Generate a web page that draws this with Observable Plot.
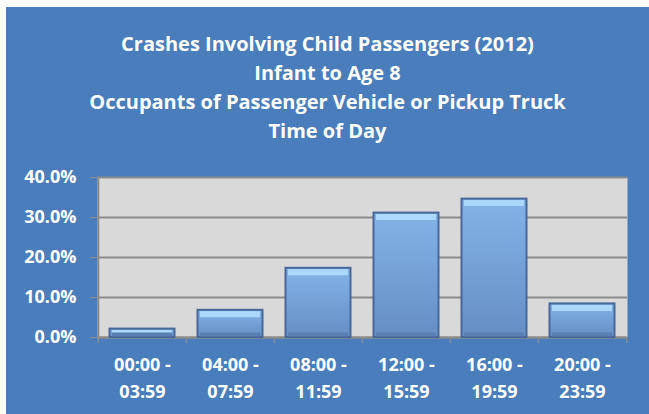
<!DOCTYPE html>
<html>
<head>
<meta charset="utf-8">
<script src="https://cdn.jsdelivr.net/npm/d3@7"></script>
<script src="https://cdn.jsdelivr.net/npm/@observablehq/plot@0.6"></script>
<style>
  html, body { margin: 0; padding: 0; background: #ffffff; }
  #chart { position: relative; width: 649px; height: 414px; overflow: hidden; }
  #panel { position: absolute; left: 6px; top: 7px; width: 643px; height: 407px; background: #4a7dbb; }
  #title { position: absolute; left: 6px; top: 29px; width: 643px; text-align: center;
           font-family: "Open Sans", sans-serif; font-weight: 700; font-size: 20px;
           line-height: 29px; color: #ffffff; }
  #plot { position: absolute; left: 0; top: 157px; }
</style>
</head>
<body>
<div id="chart">
  <div id="panel"></div>
  <div id="title"></div>
  <div id="plot"></div>
</div>
<script>
const titleLines = [
  "Crashes Involving Child Passengers (2012)",
  "Infant to Age 8",
  "Occupants of Passenger Vehicle or Pickup Truck",
  "Time of Day"
];
const categories = ["00:00 -\n03:59", "04:00 -\n07:59", "08:00 -\n11:59", "12:00 -\n15:59", "16:00 -\n19:59", "20:00 -\n23:59"];
const shares = [0.021, 0.068, 0.173, 0.311, 0.346, 0.084];
const yTicks = [0, 0.1, 0.2, 0.3, 0.4];

document.getElementById("title").innerHTML = titleLines.map(t => `<div>${t}</div>`).join("");

const data = categories.map((c, i) => ({slot: c, share: shares[i]}));

const W = 649, H = 257, ML = 97, MR = 22, MT = 20, MB = 77;
const bw = (W - ML - MR) / categories.length;
const grid = "#8c8c8c";

const defs = () => {
  const d = d3.create("svg:defs");
  const g = d.append("linearGradient").attr("id", "barGrad").attr("x1", 0).attr("x2", 0).attr("y1", 0).attr("y2", 1);
  g.append("stop").attr("offset", "0%").attr("stop-color", "#84b3e8");
  g.append("stop").attr("offset", "100%").attr("stop-color", "#658ec4");
  return d.node();
};

const chart = Plot.plot({
  width: W, height: H,
  marginLeft: ML, marginRight: MR, marginTop: MT, marginBottom: MB,
  x: {domain: categories, padding: 0, label: null},
  y: {domain: [0, 0.4], ticks: yTicks, tickFormat: d3.format(".1%"), label: null},
  style: {background: "transparent", fontFamily: "'Open Sans', sans-serif", fontWeight: "700", fontSize: "18px", color: "#ffffff", overflow: "visible"},
  marks: [
    defs,
    Plot.frame({fill: "#d9d9d9"}),
    Plot.gridY(yTicks, {stroke: grid, strokeOpacity: 1, strokeWidth: 2}),
    Plot.ruleY([0], {stroke: grid, strokeWidth: 2}),
    Plot.ruleX([categories[0]], {dx: -bw / 2, y1: 0, y2: 0.4, stroke: grid, strokeWidth: 2}),
    Plot.ruleX(categories, {dx: -bw / 2, y1: 0, y2: 0, insetBottom: -6, stroke: grid, strokeWidth: 1.5}),
    Plot.ruleX([categories[categories.length - 1]], {dx: bw / 2, y1: 0, y2: 0, insetBottom: -6, stroke: grid, strokeWidth: 1.5}),
    Plot.barY(data, {x: "slot", y: "share", fill: "url(#barGrad)", stroke: "#48679a", strokeWidth: 2, insetLeft: 11.5, insetRight: 11.5}),
    Plot.tickY(data, {x: "slot", y: "share", stroke: "#abd8fc", strokeWidth: 6, dy: 4, insetLeft: 14, insetRight: 14}),
    Plot.tickY(data, {x: "slot", y: 0, stroke: "#5a80b3", strokeWidth: 4, dy: -3, insetLeft: 14, insetRight: 14}),
    Plot.axisY(yTicks, {tickSize: 7, tickPadding: 14, stroke: grid, fill: "#ffffff", tickFormat: d3.format(".1%"), label: null}),
    Plot.axisX({tickSize: 0, tickPadding: 14, fill: "#ffffff", lineHeight: 1.5, label: null})
  ]
});
document.getElementById("plot").appendChild(chart);
</script>
</body>
</html>
